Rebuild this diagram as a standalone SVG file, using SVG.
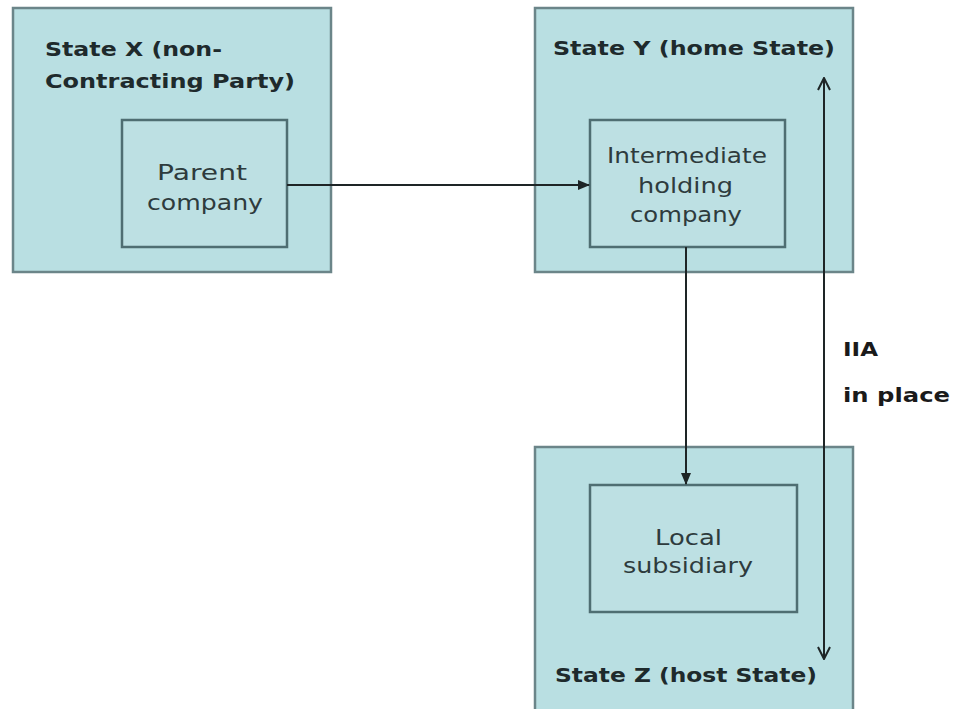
<svg xmlns="http://www.w3.org/2000/svg" width="953" height="709" viewBox="0 0 953 709">
<style>
.outer{fill:#b9dfe2;stroke:#6b8589;stroke-width:2.5}
.inner{fill:#bde0e3;stroke:#4f6e72;stroke-width:2.5}
.hdr{font-family:"DejaVu Sans",Verdana,sans-serif;font-weight:bold;font-size:20px;fill:#1e2a2c}
.lbl{font-family:"DejaVu Sans",Verdana,sans-serif;font-size:22px;fill:#2e3b3d}
.side{font-family:"DejaVu Sans",Verdana,sans-serif;font-weight:bold;font-size:20px;fill:#1a1a1a}
.conn{stroke:#1e2526;stroke-width:2;fill:none}
</style>
<defs>
<marker id="fill" markerWidth="12" markerHeight="10" refX="11" refY="5" orient="auto" markerUnits="userSpaceOnUse">
<path d="M0,0 L12,5 L0,10 Z" fill="#1e2526"/>
</marker>
<marker id="open" markerWidth="14" markerHeight="14" refX="13" refY="7" orient="auto-start-reverse" markerUnits="userSpaceOnUse">
<path d="M1,1 L13,7 L1,13" fill="none" stroke="#1e2526" stroke-width="2"/>
</marker>
</defs>
<rect width="953" height="709" fill="#ffffff"/>
<g id="stateX">
<rect class="outer" x="13" y="8" width="318" height="264"/>
<text class="hdr" x="45" y="56" textLength="177" lengthAdjust="spacingAndGlyphs">State X (non-</text>
<text class="hdr" x="45" y="88" textLength="250" lengthAdjust="spacingAndGlyphs">Contracting Party)</text>
</g>
<g id="stateY">
<rect class="outer" x="535" y="8" width="318" height="264"/>
<text class="hdr" x="553" y="55" textLength="282" lengthAdjust="spacingAndGlyphs">State Y (home State)</text>
</g>
<g id="stateZ">
<rect class="outer" x="535" y="447" width="318" height="265"/>
<text class="hdr" x="555" y="682" textLength="262" lengthAdjust="spacingAndGlyphs">State Z (host State)</text>
</g>
<g id="parent">
<rect class="inner" x="122" y="120" width="165" height="127"/>
<text class="lbl" x="157" y="180" textLength="90" lengthAdjust="spacingAndGlyphs">Parent</text>
<text class="lbl" x="147" y="210" textLength="116" lengthAdjust="spacingAndGlyphs">company</text>
</g>
<g id="intermediate">
<rect class="inner" x="590" y="120" width="195" height="127"/>
<text class="lbl" x="607" y="163" textLength="160" lengthAdjust="spacingAndGlyphs">Intermediate</text>
<text class="lbl" x="638" y="193" textLength="95" lengthAdjust="spacingAndGlyphs">holding</text>
<text class="lbl" x="630" y="222" textLength="112" lengthAdjust="spacingAndGlyphs">company</text>
</g>
<g id="local">
<rect class="inner" x="590" y="485" width="207" height="127"/>
<text class="lbl" x="655" y="545" textLength="67" lengthAdjust="spacingAndGlyphs">Local</text>
<text class="lbl" x="623" y="573" textLength="130" lengthAdjust="spacingAndGlyphs">subsidiary</text>
</g>
<g id="iia">
<text class="side" x="843" y="356" textLength="35" lengthAdjust="spacingAndGlyphs">IIA</text>
<text class="side" x="843" y="402" textLength="107" lengthAdjust="spacingAndGlyphs">in place</text>
</g>
<g id="connectors">
<line class="conn" x1="287" y1="185" x2="589" y2="185" marker-end="url(#fill)"/>
<line class="conn" x1="686" y1="247" x2="686" y2="484" marker-end="url(#fill)"/>
<line class="conn" x1="824" y1="78" x2="824" y2="659" stroke-width="2.5" marker-start="url(#open)" marker-end="url(#open)"/>
</g>
</svg>
